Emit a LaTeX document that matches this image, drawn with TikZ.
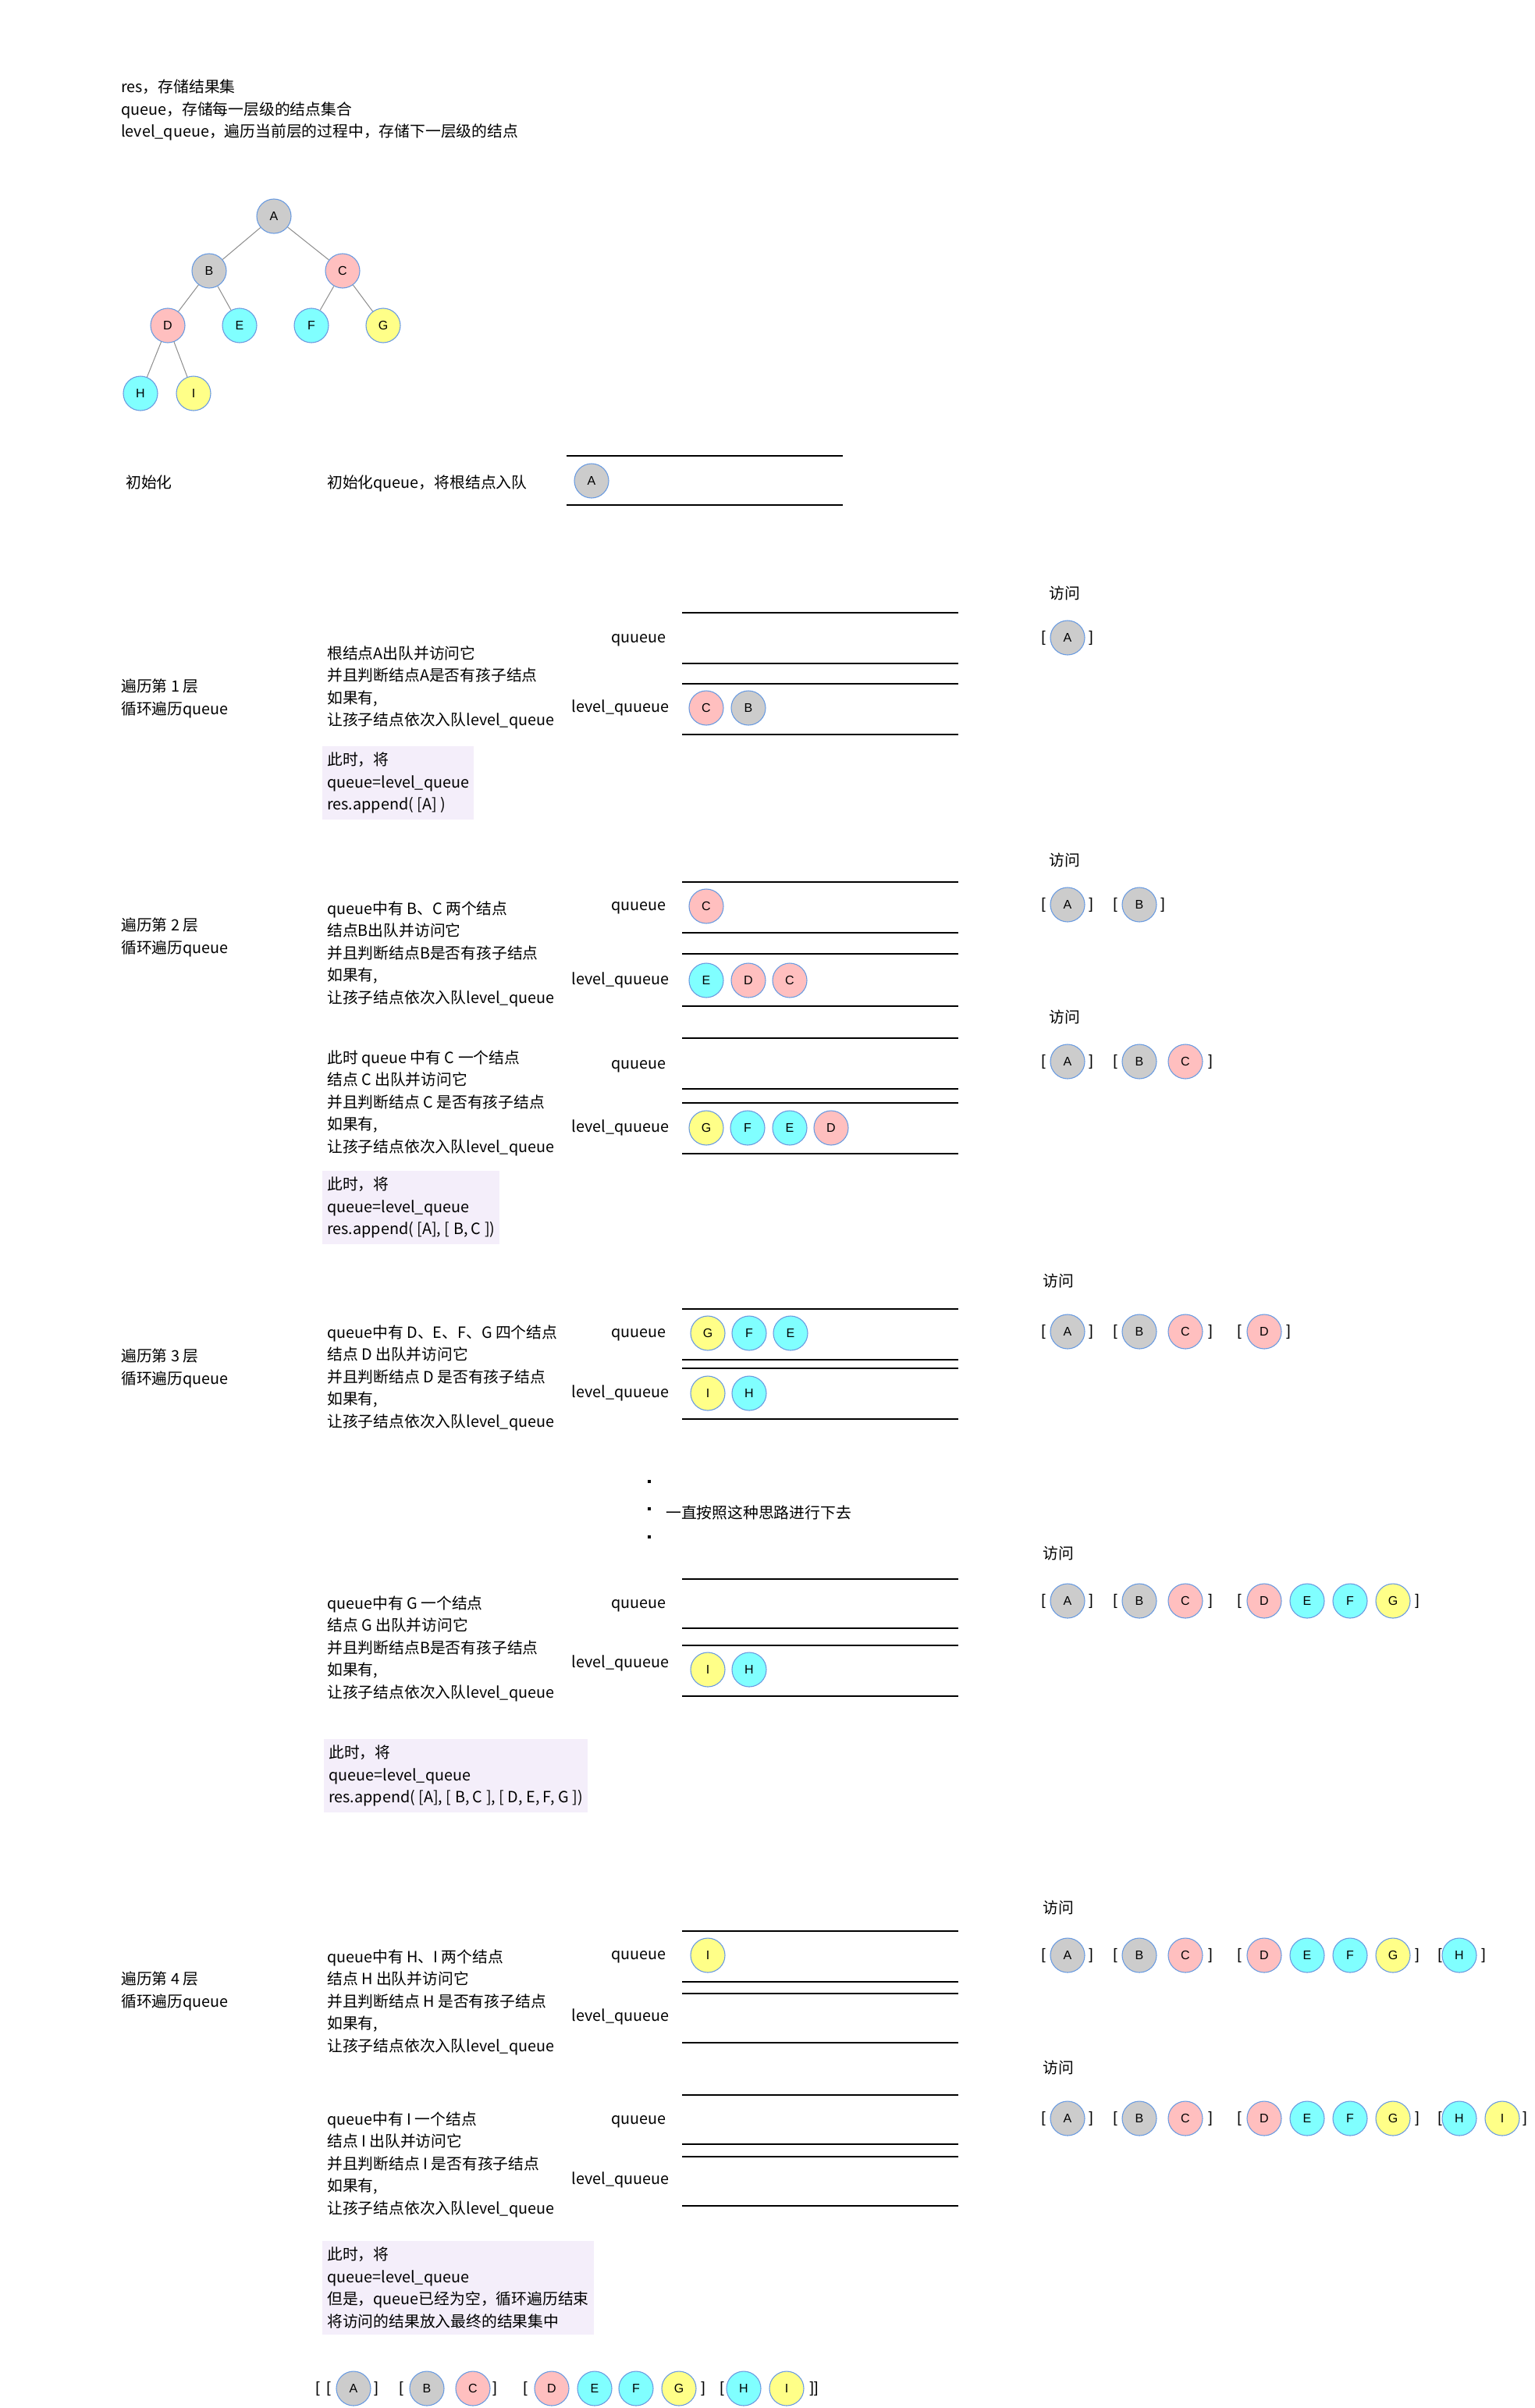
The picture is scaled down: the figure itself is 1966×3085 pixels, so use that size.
\documentclass[tikz,border=0pt]{standalone}
\usepackage{fontspec}
\setmainfont{Noto Sans CJK SC}
\newfontfamily\latfont{Liberation Sans}
\usepackage{tikz}
\usetikzlibrary{positioning}
\definecolor{ndgrey}{HTML}{CCCCCC}
\definecolor{ndpink}{HTML}{FFBFBF}
\definecolor{ndcyan}{HTML}{80FFFF}
\definecolor{ndyellow}{HTML}{FFFF88}
\definecolor{ndline}{HTML}{6A9BE0}
\definecolor{notebg}{HTML}{F4EEFA}
\definecolor{treegrey}{HTML}{8C8C8C}

\begin{document}
\begin{tikzpicture}[
    x=1pt, y=-1pt,
    every node/.style={font=\fontsize{19.8}{28.5}\selectfont, inner sep=0pt},
    nd/.style={circle, draw=ndline, line width=1.1pt, minimum size=44pt, inner sep=0pt, font=\latfont\fontsize{16}{16}\selectfont},
    gnd/.style={nd, fill=ndgrey},
    pnd/.style={nd, fill=ndpink},
    cnd/.style={nd, fill=ndcyan},
    ynd/.style={nd, fill=ndyellow},
    txt/.style={anchor=west, align=left, yshift=-3pt},
    lbl/.style={anchor=east, text height=14pt, text depth=4pt},
    brk/.style={font=\latfont\fontsize{19.5}{19.5}\selectfont},
    note/.style={anchor=north west, align=left, fill=notebg, inner xsep=6pt, inner ysep=8pt},
    qline/.style={line width=1.3pt},
    treeline/.style={draw=treegrey, line width=1pt},
    sqdot/.style={rectangle, fill=black, minimum size=3.5pt}
]
\useasboundingbox (0,0) rectangle (1966,3085);

% header
\node[txt] (head) at (155,138) {res，存储结果集\\queue，存储每一层级的结点集合\\level\_queue，遍历当前层的过程中，存储下一层级的结点};

% tree
\node[gnd] (tA) at (351,277) {A};
\node[gnd] (tB) at (268,347) {B};
\node[pnd] (tC) at (439,347) {C};
\node[pnd] (tD) at (215,417) {D};
\node[cnd] (tE) at (307,417) {E};
\node[cnd] (tF) at (399,417) {F};
\node[ynd] (tG) at (491,417) {G};
\node[cnd] (tH) at (180,504) {H};
\node[ynd] (tI) at (248,504) {I};
\draw[treeline] (tA) -- (tB);
\draw[treeline] (tA) -- (tC);
\draw[treeline] (tB) -- (tD);
\draw[treeline] (tB) -- (tE);
\draw[treeline] (tC) -- (tF);
\draw[treeline] (tC) -- (tG);
\draw[treeline] (tD) -- (tH);
\draw[treeline] (tD) -- (tI);

% init
\node[txt] (init) at (161,615) {初始化};
\node[txt] (initd) at (419,616) {初始化queue，将根结点入队};
\draw[qline] (726,584) -- (1080,584);
\draw[qline] (726,647) -- (1080,647);
\node[gnd] (q0A) at (758,616) {A};

% layer 1
\node[txt] (l1) at (155,892) {遍历第 1 层\\循环遍历queue};
\node[txt] (l1d) at (419,878) {根结点A出队并访问它\\并且判断结点A是否有孩子结点\\如果有,\\让孩子结点依次入队level\_queue};
\node[note] (l1n) at (413,956) {此时，将\\queue=level\_queue\\res.append( [A] )};
\node[lbl] (ql1) at (854,818) {quueue};
\node[lbl] (lql1) at (858,907) {level\_quueue};
\draw[qline] (874,785) -- (1228,785);
\draw[qline] (874,850) -- (1228,850);
\draw[qline] (874,876) -- (1228,876);
\draw[qline] (874,941) -- (1228,941);
\node[pnd] (lq1C) at (905,907) {C};
\node[gnd] (lq1B) at (959,907) {B};
\node (vis1) at (1364,760) {访问};
\node[brk] (r1o1) at (1337,817) {[}; \node[gnd] (r1A) at (1368,817) {A}; \node[brk] (r1c1) at (1398,817) {]};

% layer 2
\node[txt] (l2) at (155,1198) {遍历第 2 层\\循环遍历queue};
\node[txt] (l2d1) at (419,1219) {queue中有 B、C 两个结点\\结点B出队并访问它\\并且判断结点B是否有孩子结点\\如果有,\\让孩子结点依次入队level\_queue};
\node[lbl] (ql2) at (854,1161) {quueue};
\node[lbl] (lql2) at (858,1256) {level\_quueue};
\draw[qline] (874,1130) -- (1228,1130);
\draw[qline] (874,1195) -- (1228,1195);
\draw[qline] (874,1222) -- (1228,1222);
\draw[qline] (874,1289) -- (1228,1289);
\node[pnd] (q2C) at (905,1161) {C};
\node[cnd] (lq2E) at (905,1256) {E};
\node[pnd] (lq2D) at (959,1256) {D};
\node[pnd] (lq2C) at (1012,1256) {C};
\node[txt] (l2d2) at (419,1410) {此时 queue 中有 C 一个结点\\结点 C 出队并访问它\\并且判断结点 C 是否有孩子结点\\如果有,\\让孩子结点依次入队level\_queue};
\node[lbl] (ql3) at (854,1364) {quueue};
\node[lbl] (lql3) at (858,1445) {level\_quueue};
\draw[qline] (874,1330) -- (1228,1330);
\draw[qline] (874,1395) -- (1228,1395);
\draw[qline] (874,1413) -- (1228,1413);
\draw[qline] (874,1478) -- (1228,1478);
\node[ynd] (lq3G) at (905,1445) {G};
\node[cnd] (lq3F) at (958,1445) {F};
\node[cnd] (lq3E) at (1012,1445) {E};
\node[pnd] (lq3D) at (1065,1445) {D};
\node[note] (l2n) at (413,1500) {此时，将\\queue=level\_queue\\res.append( [A], [ B, C ])};
\node (vis2) at (1364,1102) {访问};
\node[brk] (r2o1) at (1337,1159) {[}; \node[gnd] (r2A) at (1368,1159) {A}; \node[brk] (r2c1) at (1398,1159) {]};
\node[brk] (r2o2) at (1429,1159) {[}; \node[gnd] (r2B) at (1460,1159) {B}; \node[brk] (r2c2) at (1490,1159) {]};
\node (vis3) at (1364,1303) {访问};
\node[brk] (r3o1) at (1337,1360) {[}; \node[gnd] (r3A) at (1368,1360) {A}; \node[brk] (r3c1) at (1398,1360) {]};
\node[brk] (r3o2) at (1429,1360) {[}; \node[gnd] (r3B) at (1460,1360) {B}; \node[pnd] (r3C) at (1519,1360) {C}; \node[brk] (r3c2) at (1551,1360) {]};

% layer 3
\node[txt] (l3) at (155,1750) {遍历第 3 层\\循环遍历queue};
\node[txt] (l3d1) at (419,1762) {queue中有 D、E、F、G 四个结点\\结点 D 出队并访问它\\并且判断结点 D 是否有孩子结点\\如果有,\\让孩子结点依次入队level\_queue};
\node[lbl] (ql4) at (854,1708) {quueue};
\node[lbl] (lql4) at (858,1785) {level\_quueue};
\draw[qline] (874,1677) -- (1228,1677);
\draw[qline] (874,1742) -- (1228,1742);
\draw[qline] (874,1753) -- (1228,1753);
\draw[qline] (874,1818) -- (1228,1818);
\node[ynd] (q4G) at (907,1708) {G};
\node[cnd] (q4F) at (960,1708) {F};
\node[cnd] (q4E) at (1013,1708) {E};
\node[ynd] (lq4I) at (907,1785) {I};
\node[cnd] (lq4H) at (960,1785) {H};
\node (vis4) at (1356,1641) {访问};
\node[brk] (r4o1) at (1337,1706) {[}; \node[gnd] (r4A) at (1368,1706) {A}; \node[brk] (r4c1) at (1398,1706) {]};
\node[brk] (r4o2) at (1429,1706) {[}; \node[gnd] (r4B) at (1460,1706) {B}; \node[pnd] (r4C) at (1519,1706) {C}; \node[brk] (r4c2) at (1551,1706) {]};
\node[brk] (r4o3) at (1588,1706) {[}; \node[pnd] (r4D) at (1620,1706) {D}; \node[brk] (r4c3) at (1651,1706) {]};

% and so on
\node[sqdot] (dot1) at (832,1898) {};
\node[sqdot] (dot2) at (832,1933) {};
\node[sqdot] (dot3) at (832,1969) {};
\node[txt] (goon) at (853,1935) {一直按照这种思路进行下去};

\node[txt] (l3d2) at (419,2109) {queue中有 G 一个结点\\结点 G 出队并访问它\\并且判断结点B是否有孩子结点\\如果有,\\让孩子结点依次入队level\_queue};
\node[lbl] (ql5) at (854,2055) {quueue};
\node[lbl] (lql5) at (858,2131) {level\_quueue};
\draw[qline] (874,2023) -- (1228,2023);
\draw[qline] (874,2086) -- (1228,2086);
\draw[qline] (874,2108) -- (1228,2108);
\draw[qline] (874,2173) -- (1228,2173);
\node[ynd] (lq5I) at (907,2139) {I};
\node[cnd] (lq5H) at (960,2139) {H};
\node[note] (l3n) at (415,2228) {此时，将\\queue=level\_queue\\res.append( [A], [ B, C ], [ D, E, F, G ])};
\node (vis5) at (1356,1990) {访问};
\node[brk] (r5o1) at (1337,2051) {[}; \node[gnd] (r5A) at (1368,2051) {A}; \node[brk] (r5c1) at (1398,2051) {]};
\node[brk] (r5o2) at (1429,2051) {[}; \node[gnd] (r5B) at (1460,2051) {B}; \node[pnd] (r5C) at (1519,2051) {C}; \node[brk] (r5c2) at (1551,2051) {]};
\node[brk] (r5o3) at (1588,2051) {[}; \node[pnd] (r5D) at (1620,2051) {D}; \node[cnd] (r5E) at (1675,2051) {E}; \node[cnd] (r5F) at (1730,2051) {F}; \node[ynd] (r5G) at (1785,2051) {G}; \node[brk] (r5c3) at (1816,2051) {]};

% layer 4
\node[txt] (l4) at (155,2548) {遍历第 4 层\\循环遍历queue};
\node[txt] (l4d1) at (419,2562) {queue中有 H、I 两个结点\\结点 H 出队并访问它\\并且判断结点 H 是否有孩子结点\\如果有,\\让孩子结点依次入队level\_queue};
\node[lbl] (ql6) at (854,2505) {quueue};
\node[lbl] (lql6) at (858,2584) {level\_quueue};
\draw[qline] (874,2474) -- (1228,2474);
\draw[qline] (874,2539) -- (1228,2539);
\draw[qline] (874,2554) -- (1228,2554);
\draw[qline] (874,2617) -- (1228,2617);
\node[ynd] (q6I) at (907,2505) {I};
\node[txt] (l4d2) at (419,2770) {queue中有 I 一个结点\\结点 I 出队并访问它\\并且判断结点 I 是否有孩子结点\\如果有,\\让孩子结点依次入队level\_queue};
\node[lbl] (ql7) at (854,2716) {quueue};
\node[lbl] (lql7) at (858,2793) {level\_quueue};
\draw[qline] (874,2684) -- (1228,2684);
\draw[qline] (874,2747) -- (1228,2747);
\draw[qline] (874,2763) -- (1228,2763);
\draw[qline] (874,2826) -- (1228,2826);
\node[note] (l4n) at (413,2871) {此时，将\\queue=level\_queue\\但是，queue已经为空，循环遍历结束\\将访问的结果放入最终的结果集中};
\node (vis6) at (1356,2444) {访问};
\node[brk] (r6o1) at (1337,2505) {[}; \node[gnd] (r6A) at (1368,2505) {A}; \node[brk] (r6c1) at (1398,2505) {]};
\node[brk] (r6o2) at (1429,2505) {[}; \node[gnd] (r6B) at (1460,2505) {B}; \node[pnd] (r6C) at (1519,2505) {C}; \node[brk] (r6c2) at (1551,2505) {]};
\node[brk] (r6o3) at (1588,2505) {[}; \node[pnd] (r6D) at (1620,2505) {D}; \node[cnd] (r6E) at (1675,2505) {E}; \node[cnd] (r6F) at (1730,2505) {F}; \node[ynd] (r6G) at (1785,2505) {G}; \node[brk] (r6c3) at (1816,2505) {]};
\node[brk] (r6o4) at (1845,2505) {[}; \node[cnd] (r6H) at (1870,2505) {H}; \node[brk] (r6c4) at (1901,2505) {]};
\node (vis7) at (1356,2649) {访问};
\node[brk] (r7o1) at (1337,2714) {[}; \node[gnd] (r7A) at (1368,2714) {A}; \node[brk] (r7c1) at (1398,2714) {]};
\node[brk] (r7o2) at (1429,2714) {[}; \node[gnd] (r7B) at (1460,2714) {B}; \node[pnd] (r7C) at (1519,2714) {C}; \node[brk] (r7c2) at (1551,2714) {]};
\node[brk] (r7o3) at (1588,2714) {[}; \node[pnd] (r7D) at (1620,2714) {D}; \node[cnd] (r7E) at (1675,2714) {E}; \node[cnd] (r7F) at (1730,2714) {F}; \node[ynd] (r7G) at (1785,2714) {G}; \node[brk] (r7c3) at (1816,2714) {]};
\node[brk] (r7o4) at (1845,2714) {[}; \node[cnd] (r7H) at (1870,2714) {H}; \node[ynd] (r7I) at (1925,2714) {I}; \node[brk] (r7c4) at (1954,2714) {]};

% final result
\node[brk] (fo0) at (407,3060) {[};
\node[brk] (fo1) at (421,3060) {[}; \node[gnd] (fA) at (453,3060) {A}; \node[brk] (fc1) at (482,3060) {]};
\node[brk] (fo2) at (514,3060) {[}; \node[gnd] (fB) at (547,3060) {B}; \node[pnd] (fC) at (606,3060) {C}; \node[brk] (fc2) at (634,3060) {]};
\node[brk] (fo3) at (673,3060) {[}; \node[pnd] (fD) at (707,3060) {D}; \node[cnd] (fE) at (762,3060) {E}; \node[cnd] (fF) at (815,3060) {F}; \node[ynd] (fG) at (870,3060) {G}; \node[brk] (fc3) at (901,3060) {]};
\node[brk] (fo4) at (925,3060) {[}; \node[cnd] (fH) at (953,3060) {H}; \node[ynd] (fI) at (1008,3060) {I}; \node[brk] (fc4) at (1043,3060) {]]};
\end{tikzpicture}
\end{document}
